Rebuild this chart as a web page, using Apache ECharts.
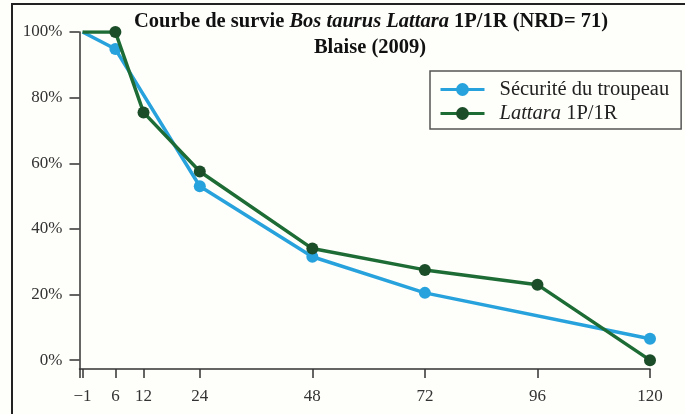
<!DOCTYPE html>
<html><head><meta charset="utf-8">
<script src="https://cdn.jsdelivr.net/npm/echarts@6/dist/echarts.min.js"></script>
<style>html,body{margin:0;padding:0;background:#fefefa;}#c{width:685px;height:414px;}
#frame{position:absolute;left:11px;top:3px;width:700px;height:420px;border-left:2px solid #222;border-top:2px solid #222;pointer-events:none;}</style>
</head><body><div id="c"></div><div id="frame"></div>
<script>
const monthTicks = [-1, 6, 12, 24, 48, 72, 96, 120];
const pctTicks = [0, 20, 40, 60, 80, 100];
const secMonths = [-1, 6, 24, 48, 72, 120];
const secVals = [100, 94.8, 53, 31.5, 20.5, 6.5];
const latMonths = [-1, 6, 12, 24, 48, 72, 96, 120];
const latVals = [100, 100, 75.5, 57.5, 34, 27.5, 23, 0];
const seriesNames = ['Sécurité du troupeau', 'Lattara 1P/1R'];

const serif = 'Liberation Serif';
const toData = (xs, ys) => xs.map((x, i) => ({value: [x, ys[i]], symbol: i === 0 ? 'none' : 'circle'}));

const chart = echarts.init(document.getElementById('c'), null, {renderer: 'canvas'});
chart.setOption({
  backgroundColor: '#fefefa',
  animation: false,
  title: [
    {text: '{b|Courbe de survie }{bi|Bos taurus Lattara}{b| 1P/1R (NRD= 71)}', left: 366, top: 6, textAlign: 'center',
      textStyle: {rich: {b: {fontFamily: serif, fontWeight: 'bold', fontSize: 20.5, color: '#111'}, bi: {fontFamily: serif, fontWeight: 'bold', fontStyle: 'italic', fontSize: 20.5, color: '#111'}}}},
    {text: 'Blaise (2009)', left: 365, top: 32, textAlign: 'center',
      textStyle: {fontFamily: serif, fontWeight: 'bold', fontSize: 20.5, color: '#111'}}
  ],
  legend: {
    left: 430, top: 71, orient: 'vertical',
    itemWidth: 44, itemHeight: 16, itemGap: 3,
    borderColor: '#555', borderWidth: 1.5, borderRadius: 0,
    padding: [8, 12, 5, 9],
    backgroundColor: '#fefefa',
    lineStyle: {width: 3},
    data: seriesNames,
    formatter: n => n === seriesNames[1] ? '{i|Lattara} 1P/1R' : n,
    textStyle: {fontFamily: serif, fontSize: 20.5, color: '#222', padding: [0, 0, 0, 10],
      rich: {i: {fontFamily: serif, fontStyle: 'italic', fontSize: 20.5, color: '#222'}}}
  },
  grid: {left: 79.5, right: 35, top: 32, bottom: 45, containLabel: false},
  xAxis: {
    type: 'value', min: -1.65, max: 120,
    splitLine: {show: false},
    axisLine: {onZero: false, lineStyle: {color: '#333', width: 1.5}},
    axisTick: {show: true, length: 9, lineStyle: {color: '#333', width: 1.5}, customValues: [-1.65].concat(monthTicks)},
    axisLabel: {customValues: monthTicks, formatter: v => v < 0 ? '\u2212' + Math.abs(v) : String(v),
      fontFamily: serif, fontSize: 17, color: '#333', margin: 19}
  },
  yAxis: {
    type: 'value', min: -2.7, max: 100,
    splitLine: {show: false},
    axisLine: {show: true, onZero: false, lineStyle: {color: '#333', width: 1.5}},
    axisTick: {show: true, length: 10, lineStyle: {color: '#333', width: 1.5}, customValues: pctTicks},
    axisLabel: {customValues: pctTicks, formatter: v => v + '%', fontFamily: serif, fontSize: 17, color: '#333', margin: 17}
  },
  series: [
    {name: seriesNames[0], type: 'line', symbol: 'circle', data: toData(secMonths, secVals), symbolSize: 12,
      lineStyle: {color: '#27a2dc', width: 3.5}, itemStyle: {color: '#27a2dc'}, z: 2},
    {name: seriesNames[1], type: 'line', symbol: 'circle', data: toData(latMonths, latVals), symbolSize: 12,
      lineStyle: {color: '#1e6c35', width: 3.5}, itemStyle: {color: '#1b4d28'}, z: 3}
  ]
});
</script></body></html>
